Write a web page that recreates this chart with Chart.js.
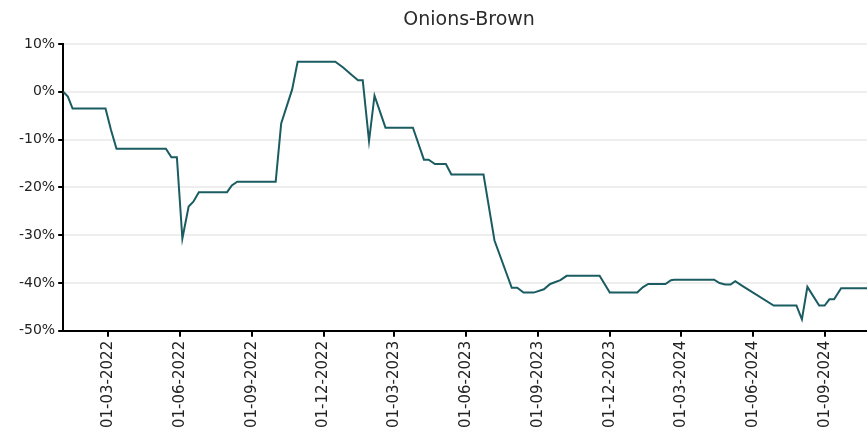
<!DOCTYPE html>
<html>
<head>
<meta charset="utf-8">
<script src="https://cdn.jsdelivr.net/npm/chart.js@4/dist/chart.umd.min.js"></script>
<style>
  html, body { margin: 0; padding: 0; background: #fff; }
  #wrap { width: 867px; height: 432px; }
</style>
</head>
<body>
<div id="wrap"><canvas id="priceChart"></canvas></div>
<script>
// Onions-Brown: price change vs. start of series
const chartTitle = 'Onions-Brown';
const dates = [
  '2022-01-03', '2022-01-09', '2022-01-15', '2022-02-26', '2022-03-05', '2022-03-12',
  '2022-05-14', '2022-05-21', '2022-05-28', '2022-06-04', '2022-06-12', '2022-06-18',
  '2022-06-25', '2022-07-31', '2022-08-06', '2022-08-13', '2022-10-01', '2022-10-08',
  '2022-10-22', '2022-10-29', '2022-12-16', '2022-12-26', '2023-01-06', '2023-01-14',
  '2023-01-20', '2023-01-28', '2023-02-04', '2023-02-18', '2023-03-25', '2023-04-08',
  '2023-04-14', '2023-04-22', '2023-05-06', '2023-05-13', '2023-06-23', '2023-07-07',
  '2023-07-29', '2023-08-05', '2023-08-13', '2023-08-26', '2023-09-08', '2023-09-16',
  '2023-09-29', '2023-10-07', '2023-11-18', '2023-12-01', '2024-01-05', '2024-01-12',
  '2024-01-19', '2024-02-10', '2024-02-17', '2024-02-21', '2024-04-12', '2024-04-19',
  '2024-04-26', '2024-05-03', '2024-05-09', '2024-05-17', '2024-06-27', '2024-07-26',
  '2024-08-02', '2024-08-09', '2024-08-24', '2024-08-31', '2024-09-06', '2024-09-12',
  '2024-09-21', '2024-10-24'
];
const changePct = [
  0, -1, -3.5, -3.5, -8, -11.9,
  -11.9, -13.7, -13.7, -30.7, -24, -23,
  -21, -21, -19.6, -18.8, -18.8, -6.6,
  0.5, 6.3, 6.3, 5.1, 3.5, 2.4,
  2.4, -10.3, -0.8, -7.5, -7.5, -14.2,
  -14.2, -15.1, -15.1, -17.3, -17.3, -31.1,
  -41, -41, -42, -42, -41.3, -40.2,
  -39.4, -38.5, -38.5, -42, -42, -40.9,
  -40.2, -40.2, -39.4, -39.3, -39.3, -40,
  -40.3, -40.3, -39.6, -40.5, -44.7, -44.7,
  -47.6, -40.8, -44.7, -44.7, -43.4, -43.4,
  -41.1, -41.1
];
const tickDates = [
  '2022-03-01', '2022-06-01', '2022-09-01', '2022-12-01', '2023-03-01', '2023-06-01',
  '2023-09-01', '2023-12-01', '2024-03-01', '2024-06-01', '2024-09-01'
];

const DAY = 86400000;
function toDay(s) {
  const [y, m, d] = s.split('-').map(Number);
  return Date.UTC(y, m - 1, d) / DAY;
}
function fmtDay(v) {
  const dt = new Date(Math.round(v) * DAY);
  const dd = String(dt.getUTCDate()).padStart(2, '0');
  const mm = String(dt.getUTCMonth() + 1).padStart(2, '0');
  return `${dd}-${mm}-${dt.getUTCFullYear()}`;
}

const points = dates.map((d, i) => ({ x: toDay(d), y: changePct[i] }));

// title centred over the plot area rather than the whole canvas
const plotTitle = {
  id: 'plotTitle',
  afterDraw(chart) {
    const { ctx, chartArea } = chart;
    ctx.save();
    ctx.font = '19px "DejaVu Sans"';
    ctx.fillStyle = '#2a2a2a';
    ctx.textAlign = 'center';
    ctx.textBaseline = 'middle';
    ctx.fillText(chartTitle, (chartArea.left + chartArea.right) / 2 + 4, 20);
    ctx.restore();
  },
};

new Chart(document.getElementById('priceChart'), {
  type: 'line',
  data: {
    datasets: [{
      label: chartTitle,
      data: points,
      borderColor: '#1a5c61',
      borderWidth: 2,
      pointRadius: 0,
      tension: 0,
      fill: false,
    }],
  },
  plugins: [plotTitle],
  options: {
    responsive: true,
    maintainAspectRatio: false,
    animation: false,
    layout: { padding: { left: 16, right: 0, top: 44, bottom: 0 } },
    plugins: {
      legend: { display: false },
      tooltip: { enabled: false },
      title: { display: false },
    },
    scales: {
      x: {
        type: 'linear',
        min: toDay(dates[0]),
        max: toDay(dates[dates.length - 1]),
        afterBuildTicks: axis => { axis.ticks = tickDates.map(d => ({ value: toDay(d) })); },
        grid: { drawOnChartArea: false, drawTicks: true, tickLength: 6, tickColor: '#000', lineWidth: 2 },
        border: { color: '#000', width: 2 },
        ticks: {
          autoSkip: false,
          minRotation: 90,
          maxRotation: 90,
          padding: 4,
          color: '#222',
          font: { family: 'DejaVu Sans', size: 15 },
          callback: v => fmtDay(v),
        },
      },
      y: {
        min: -50,
        max: 10,
        grid: { color: '#eeeeee', lineWidth: 2, tickColor: '#000', tickLength: 5 },
        border: { color: '#000', width: 2 },
        ticks: {
          stepSize: 10,
          padding: 3,
          color: '#222',
          font: { family: 'DejaVu Sans', size: 14 },
          callback: v => v + '%',
        },
      },
    },
  },
});
</script>
</body>
</html>
